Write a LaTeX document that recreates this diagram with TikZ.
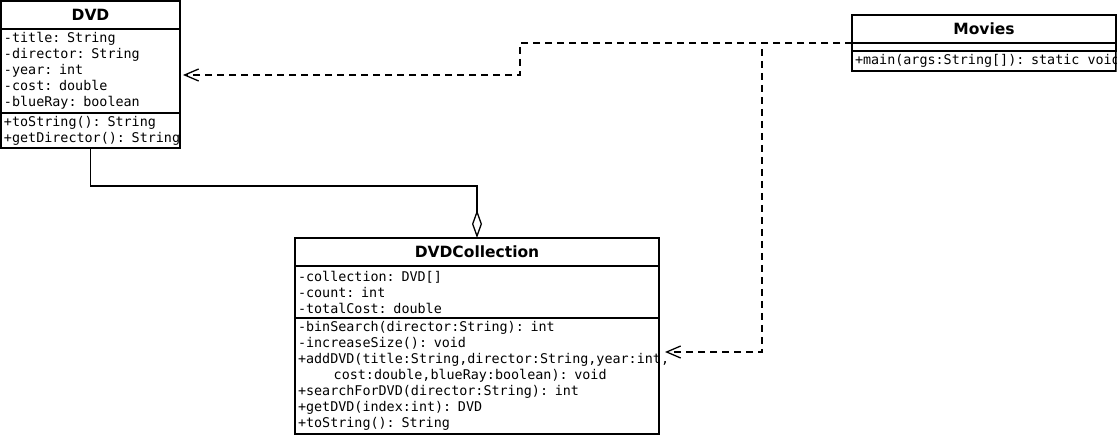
\documentclass[tikz,border=0pt]{standalone}
\usepackage{fontspec}
\setmainfont{DejaVu Sans}
\setsansfont{DejaVu Sans}
\setmonofont{DejaVu Sans Mono}
\usetikzlibrary{arrows.meta}

\tikzset{
  umlname/.style={draw, line width=1.4pt, anchor=north west, inner sep=0pt, outer sep=0pt,
    font=\sffamily\bfseries\fontsize{15.5}{18}\selectfont},
  umlpart/.style={draw, line width=1.4pt, anchor=north west, inner xsep=3pt,
    inner ysep=0pt, outer sep=0pt, align=left,
    font=\ttfamily\fontsize{13.4}{16}\selectfont,
    execute at begin node={\spaceskip=8.07pt\relax}},
  dep/.style={line width=1.3pt, dash pattern=on 7pt off 5pt,
    -{Straight Barb[length=14pt,width=12pt]}},
  aggr/.style={line width=1.3pt, -{Diamond[open,fill=white,length=28pt,width=10pt]}}
}

\begin{document}
\begin{tikzpicture}[x=1pt,y=-1pt]
  \useasboundingbox (0,0) rectangle (1117,435);
  % DVD
  \node[umlname, minimum width=179pt, minimum height=28pt] (dvdname) at (1,1) {DVD};
  \node[umlpart, text width=173pt, minimum height=84pt] (dvdattr) at (dvdname.south west)
    {-title: String\\-director: String\\-year: int\\-cost: double\\-blueRay: boolean};
  \node[umlpart, text width=173pt, minimum height=35pt] (dvdmeth) at (dvdattr.south west)
    {+toString(): String\\\mbox{+getDirector(): String}};
  % Movies
  \node[umlname, minimum width=264pt, minimum height=28pt] (movname) at (852,15) {Movies};
  \node[umlpart, text width=258pt, minimum height=8pt] (movattr) at (movname.south west) {};
  \begin{scope}
    \clip (851,50) rectangle (1116.7,72);
    \node[umlpart, text width=258pt, minimum height=20pt] (movmeth) at (movattr.south west)
      {\mbox{+main(args:String[]): static void}};
  \end{scope}
  % DVDCollection
  \node[umlname, minimum width=364pt, minimum height=28pt] (collname) at (295,238) {DVDCollection};
  \node[umlpart, text width=358pt, minimum height=52pt] (collattr) at (collname.south west)
    {-collection: DVD[]\\-count: int\\-totalCost: double};
  \node[umlpart, text width=358pt, minimum height=116pt] (collmeth) at (collattr.south west)
    {-binSearch(director:String): int\\-increaseSize(): void\\
     +addDVD(title:String,director:String,year:int,\\
     \hspace*{35.7pt}cost:double,blueRay:boolean): void\\
     +searchForDVD(director:String): int\\+getDVD(index:int): DVD\\+toString(): String};

  % connectors
  \draw[aggr] (dvdmeth.south) -- ++(0,38) -| (collname.north);
  \draw[dep] (movname.south west) -- ++(-332,0) |- ([xshift=3pt,yshift=-4pt]dvdattr.east);
  \draw[dep] (movname.south west) -- ++(-90,0) |- ([xshift=6pt,yshift=24pt]collmeth.east);
\end{tikzpicture}
\end{document}
